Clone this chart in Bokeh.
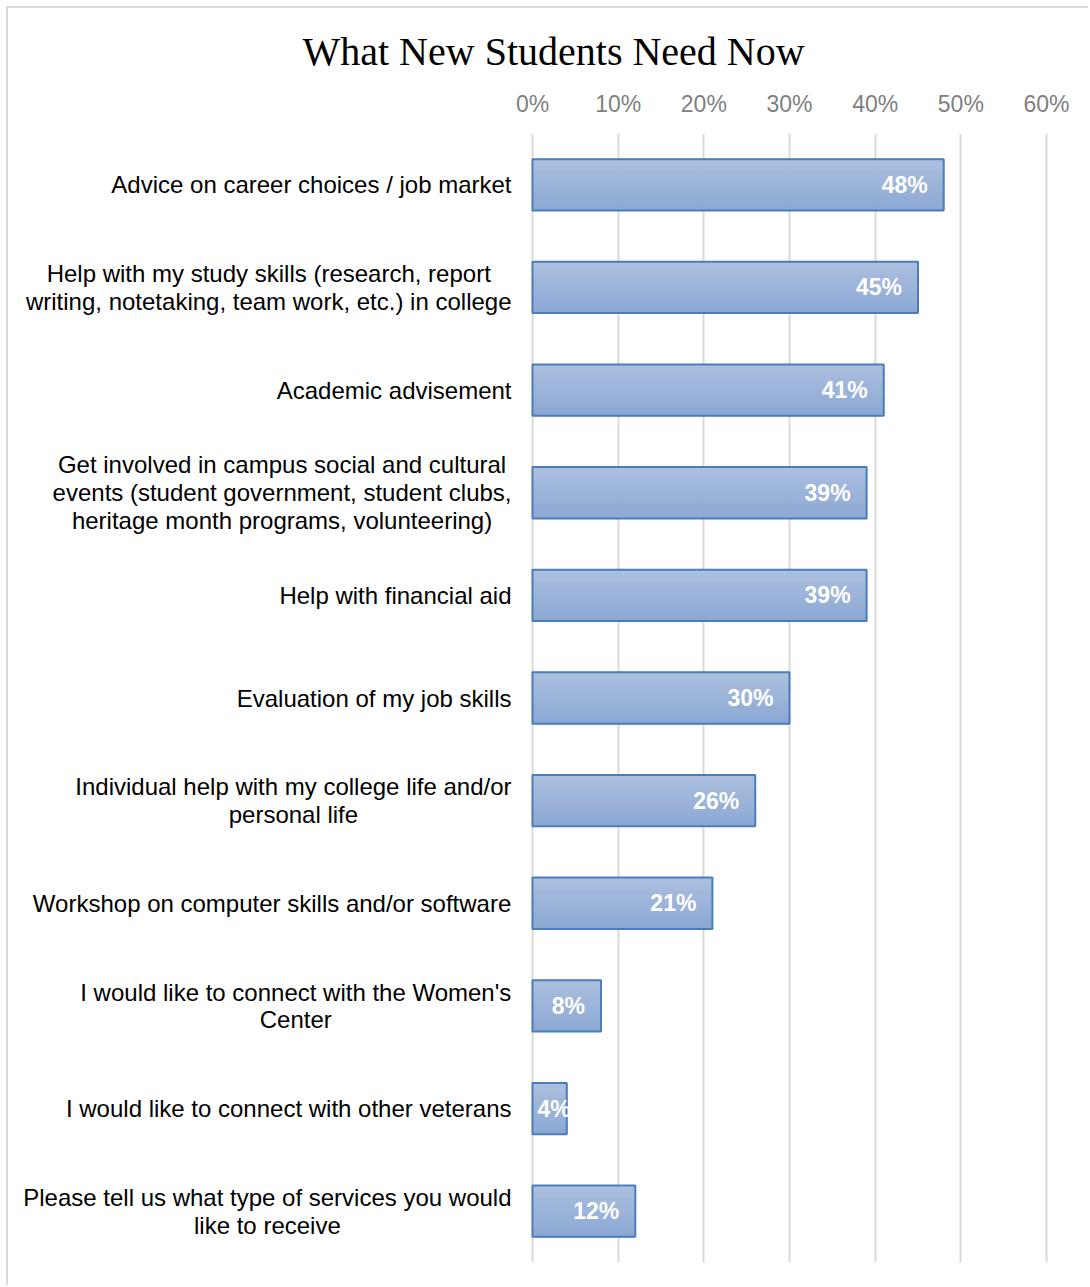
import numpy as np
from bokeh.plotting import figure
from bokeh.models import (Range1d, FixedTicker, PrintfTickFormatter, LinearAxis,
                          ColumnDataSource, Grid)
from bokeh.core.properties import value
from bokeh.embed import file_html
from bokeh.resources import INLINE

title_text = "What New Students Need Now"
categories = [
    "Advice on career choices / job market",
    "Help with my study skills (research, report\nwriting, notetaking, team work, etc.) in college",
    "Academic advisement",
    "Get involved in campus social and cultural\nevents (student government, student clubs,\nheritage month programs, volunteering)",
    "Help with financial aid",
    "Evaluation of my job skills",
    "Individual help with my college life and/or\npersonal life",
    "Workshop on computer skills and/or software",
    "I would like to connect with the Women's\nCenter",
    "I would like to connect with other veterans",
    "Please tell us what type of services you would\nlike to receive",
]
values = [48, 45, 41, 39, 39, 30, 26, 21, 8, 4, 12]
x_ticks = [0, 10, 20, 30, 40, 50, 60]

# ---- layout constants (pixels) ----
CANVAS_W, CANVAS_H = 1082, 1279
PX_ZERO = 524          # canvas x of the 0% line
PX_SPAN = 514          # pixels from 0% to 60%
RIGHT_BORDER = 42
TOP_BORDER, BOTTOM_BORDER = 125, 25
LABEL_FS = 24
LABEL_GAP = 21

# Arial / Liberation Sans advance widths (1/1000 em)
AW = {' ': 278, '!': 278, "'": 191, '(': 333, ')': 333, ',': 278, '-': 333, '.': 278,
      '/': 278, '%': 889}
AW.update({c: 556 for c in "0123456789"})
AW.update(dict(zip("ABCDEFGHIJKLMNOPQRSTUVWXYZ",
                   [667, 667, 722, 722, 667, 611, 778, 722, 278, 500, 667, 556, 833,
                    722, 778, 667, 778, 722, 667, 611, 722, 667, 944, 667, 667, 611])))
AW.update(dict(zip("abcdefghijklmnopqrstuvwxyz",
                   [556, 556, 500, 556, 556, 278, 556, 556, 222, 222, 500, 222, 833,
                    556, 556, 556, 556, 333, 500, 278, 556, 500, 722, 500, 500, 500])))


def text_width(s, fs):
    return max(sum(AW.get(ch, 556) for ch in line) for line in s.split("\n")) * fs / 1000.0


n = len(categories)
ypos = np.arange(n)[::-1].astype(float)
vals = np.array(values, dtype=float)

px_per_unit = PX_SPAN / (x_ticks[-1] - x_ticks[0])
frame_w = CANVAS_W - RIGHT_BORDER
x_start = -PX_ZERO / px_per_unit
x_end = x_start + frame_w / px_per_unit

p = figure(width=CANVAS_W, height=CANVAS_H, output_backend="svg", toolbar_location=None,
           x_range=Range1d(x_start, x_end), y_range=Range1d(-0.5, n - 0.5),
           x_axis_location=None, y_axis_location=None,
           min_border_left=0, min_border_right=RIGHT_BORDER, min_border_top=TOP_BORDER,
           min_border_bottom=BOTTOM_BORDER)
p.styles = {"margin-left": "6px", "margin-top": "6px",
            "border-left": "2px solid #d9d9d9", "border-top": "2px solid #d9d9d9"}
p.outline_line_color = None
p.background_fill_color = "white"
p.border_fill_color = "white"

# title
p.title.text = title_text
p.title.align = "left"
p.title.offset = 294
p.title.text_font = "Liberation Serif"
p.title.text_font_size = "40px"
p.title.text_font_style = "normal"
p.title.text_color = "#000000"
p.title.standoff = 27

# top axis
xa = LinearAxis(ticker=FixedTicker(ticks=x_ticks),
                formatter=PrintfTickFormatter(format="%d%%"))
xa.axis_line_color = None
xa.major_tick_line_color = None
xa.minor_tick_line_color = None
xa.major_tick_out = 0
xa.major_label_standoff = 17
xa.major_label_text_font = "Liberation Sans"
xa.major_label_text_font_size = "23px"
xa.major_label_text_color = "#808080"
p.add_layout(xa, "above")

p.xgrid.grid_line_color = None
p.ygrid.grid_line_color = None
p.add_layout(Grid(dimension=0, ticker=xa.ticker, grid_line_color="#d9d9d9",
                  grid_line_width=2))

# gradient bars via strips
bar_h = 0.5
nstrip = 16
top_c = np.array([0xad, 0xc0, 0xdf])
bot_c = np.array([0x8b, 0xa8, 0xd4])
sx, sy, sh, sc = [], [], [], []
for y, v in zip(ypos, vals):
    for j in range(nstrip):
        t = (j + 0.5) / nstrip
        c = top_c + (bot_c - top_c) * t
        sx.append(v)
        sy.append(y + bar_h / 2 - (j + 0.5) * bar_h / nstrip)
        sh.append(bar_h / nstrip)
        sc.append("#%02x%02x%02x" % tuple(int(round(q)) for q in c))
p.hbar(y=sy, right=sx, left=0, height=sh, fill_color=sc, line_color=sc, line_width=1)
p.hbar(y=ypos, right=vals, left=0, height=bar_h, fill_color=None,
       line_color="#4a7ebb", line_width=2)

# category labels (centered lines, block right-aligned at the axis)
cat_off = [-(LABEL_GAP + text_width(c, LABEL_FS) / 2.0) for c in categories]
p.text(x=0, y="y", text="t", x_offset="xo",
       source=ColumnDataSource(dict(y=ypos, t=categories, xo=cat_off)),
       text_align="center", text_baseline="middle", text_color="#000000",
       text_font=value("Liberation Sans"), text_font_size="%dpx" % LABEL_FS,
       text_line_height=1.03)

# data labels
labels = ["%d%%" % v for v in values]
fits = vals >= 6
src_in = ColumnDataSource(dict(x=vals[fits], y=ypos[fits],
                               t=[l for l, f in zip(labels, fits) if f]))
src_small = ColumnDataSource(dict(x=np.zeros((~fits).sum()), y=ypos[~fits],
                                  t=[l for l, f in zip(labels, fits) if not f]))
p.text(x="x", y="y", text="t", source=src_in, text_align="right",
       text_baseline="middle", x_offset=-16, text_color="white",
       text_font=value("Liberation Sans"), text_font_style="bold",
       text_font_size="23px")
p.text(x="x", y="y", text="t", source=src_small, text_align="left",
       text_baseline="middle", x_offset=5, text_color="white",
       text_font=value("Liberation Sans"), text_font_style="bold",
       text_font_size="23px")

open("out.html", "w").write(file_html(p, INLINE))
